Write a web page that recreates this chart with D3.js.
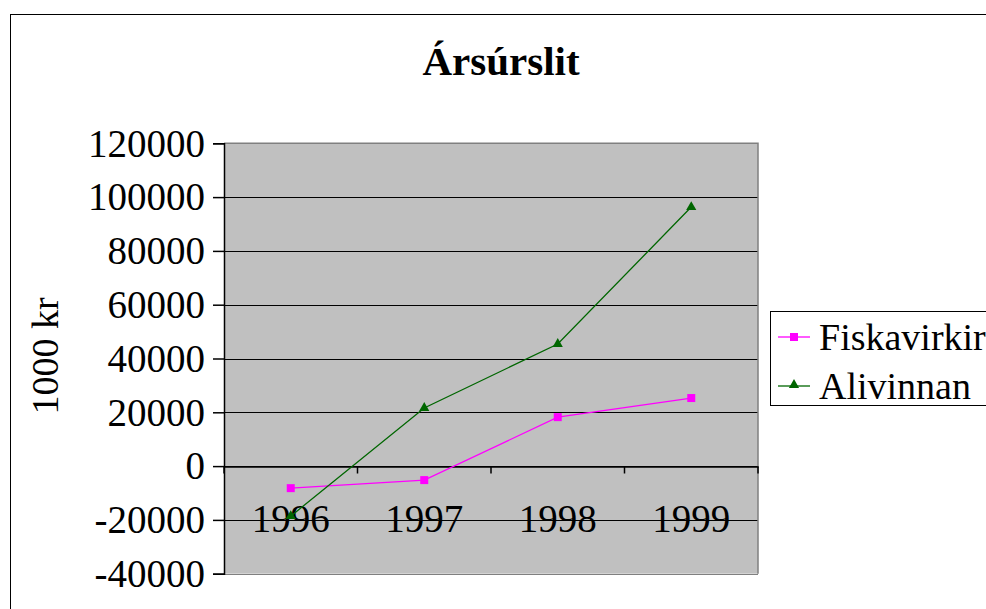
<!DOCTYPE html>
<html><head><meta charset="utf-8">
<script src="https://cdn.jsdelivr.net/npm/d3@7"></script>
<style>body{margin:0;background:#fff}svg{display:block}text{font-family:"Liberation Serif","Times New Roman",serif}</style>
</head><body>
<script>
const categories = ["1996","1997","1998","1999"];
const fiskavirkir = [-8200, -5200, 18200, 25300];
const alivinnan = [-18600, 21600, 45400, 96300];
const yTicks = [-40000,-20000,0,20000,40000,60000,80000,100000,120000];
const seriesNames = ["Fiskavirkir","Alivinnan"];
const titleText = "Ársúrslit";
const yTitle = "1000 kr";

const W=986,H=609;
const svg=d3.select("body").append("svg").attr("width",W).attr("height",H);
svg.append("rect").attr("x",10.5).attr("y",14.5).attr("width",W).attr("height",H).attr("fill","#fff").attr("stroke","#000").attr("stroke-width",1);

const L=224,R=758,T=143.3,B=573.7;
const x=d3.scaleBand().domain(categories).range([L,R]);
const y=d3.scaleLinear().domain([-40000,120000]).range([B,T]);

svg.append("rect").attr("x",L).attr("y",T).attr("width",R-L).attr("height",B-T).attr("fill","#C0C0C0");
svg.append("g").selectAll("line").data(yTicks).join("line")
 .attr("x1",L).attr("x2",R).attr("y1",d=>Math.round(y(d))+0.5).attr("y2",d=>Math.round(y(d))+0.5)
 .attr("stroke","#000").attr("stroke-width",1);
svg.append("path").attr("d",`M${L},${T}H${R}V${B}`).attr("fill","none").attr("stroke","#808080").attr("stroke-width",1.5);
svg.append("line").attr("x1",L).attr("x2",R).attr("y1",Math.round(B)+0.5).attr("y2",Math.round(B)+0.5).attr("stroke","#808080");

const yAxis=d3.axisLeft(y).tickValues(yTicks).tickSize(11).tickPadding(8).tickFormat(d=>String(d));
const ya=svg.append("g").attr("transform",`translate(${L},0)`).call(yAxis);
ya.select(".domain").attr("stroke","#000").attr("stroke-width",1.5);
ya.selectAll("line").attr("stroke","#000").attr("stroke-width",1.5);
ya.selectAll("text").attr("font-size",39).attr("fill","#000").attr("font-family","Liberation Serif").attr("dy","0.33em");

const xAxis=d3.axisBottom(x).tickSize(0).tickPadding(53);
const xa=svg.append("g").attr("transform",`translate(0,${Math.round(y(0))+0.5})`).call(xAxis);
xa.select(".domain").attr("stroke","#000").attr("stroke-width",1.5);
xa.selectAll("text").attr("font-size",39).attr("fill","#000").attr("font-family","Liberation Serif").attr("dy","0.33em");
xa.selectAll(".xt").data(d3.range(categories.length+1)).join("line").attr("class","xt")
 .attr("x1",i=>L+i*x.step()).attr("x2",i=>L+i*x.step()).attr("y1",0).attr("y2",7).attr("stroke","#000").attr("stroke-width",1.5);

const line=d3.line().x((d,i)=>x(categories[i])+x.bandwidth()/2).y(d=>y(d));
svg.append("path").datum(fiskavirkir).attr("d",line).attr("fill","none").attr("stroke","#FF00FF").attr("stroke-width",1.3);
svg.append("path").datum(alivinnan).attr("d",line).attr("fill","none").attr("stroke","#006600").attr("stroke-width",1.3);
svg.selectAll(".sq").data(fiskavirkir).join("rect").attr("class","sq")
 .attr("x",(d,i)=>x(categories[i])+x.bandwidth()/2-4).attr("y",d=>y(d)-4).attr("width",8).attr("height",8).attr("fill","#FF00FF");
const tri=d3.symbol().type(d3.symbolTriangle).size(45);
svg.selectAll(".tr").data(alivinnan).join("path").attr("class","tr")
 .attr("transform",(d,i)=>`translate(${x(categories[i])+x.bandwidth()/2},${y(d)})`).attr("d",tri).attr("fill","#006600");

svg.append("text").attr("x",501).attr("y",75).attr("text-anchor","middle").attr("font-size",41).attr("font-weight","bold").text(titleText);
svg.append("text").attr("transform","translate(58,356) rotate(-90)").attr("text-anchor","middle").attr("font-size",38).text(yTitle);

const lg=svg.append("g");
lg.append("rect").attr("x",770.5).attr("y",311.5).attr("width",230).attr("height",94).attr("fill","#fff").attr("stroke","#000").attr("stroke-width",1);
const colors=["#FF00FF","#006600"];
const ly=[337,386];
seriesNames.forEach((n,i)=>{
  lg.append("line").attr("x1",778).attr("x2",810).attr("y1",ly[i]).attr("y2",ly[i]).attr("stroke",colors[i]).attr("stroke-width",1.3);
  if(i===0) lg.append("rect").attr("x",790).attr("y",ly[i]-4).attr("width",8).attr("height",8).attr("fill",colors[i]);
  else lg.append("path").attr("transform",`translate(794,${ly[i]-1})`).attr("d",tri).attr("fill",colors[i]);
  lg.append("text").attr("x",819).attr("y",ly[i]+13).attr("font-size",38).text(n);
});
</script>
</body></html>
